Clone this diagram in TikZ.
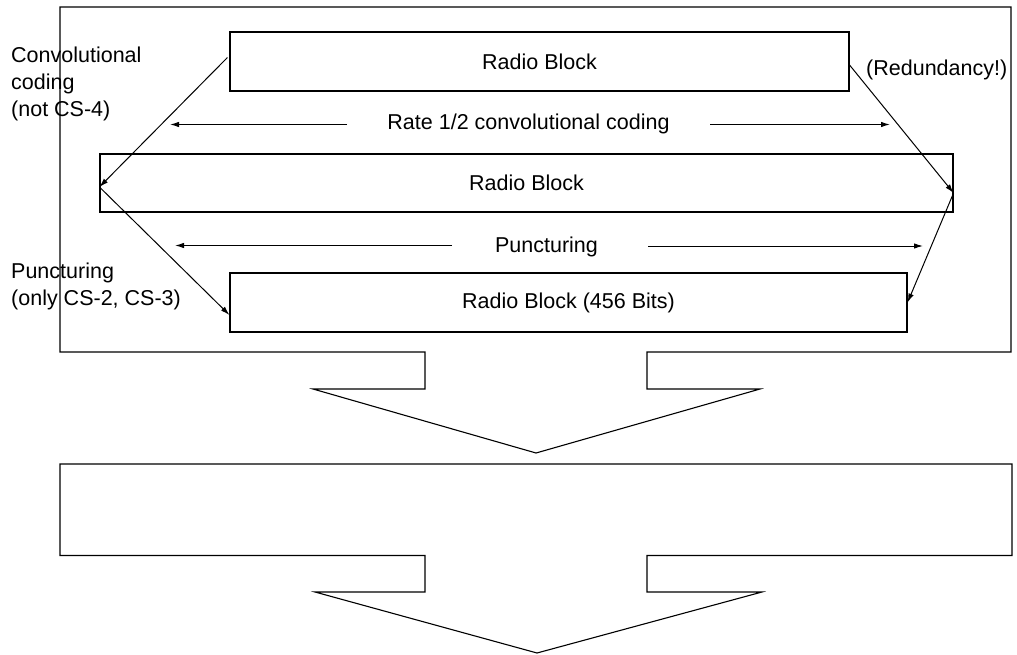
\documentclass[tikz,border=0pt]{standalone}
\usepackage{fontspec}
\setmainfont{Liberation Sans}
\usetikzlibrary{arrows.meta,calc}
\begin{document}
\begin{tikzpicture}[x=1pt,y=-1pt,
  every node/.style={font=\fontsize{21.5}{27}\selectfont},
  ln/.style={line width=1.1pt,line join=miter},
  block/.style={ln,draw,inner sep=0pt,anchor=center},
  arr/.style={line width=1pt,-{Latex[length=9pt,width=5.5pt]}},
  lbl/.style={inner sep=0pt,align=left,anchor=north west}]
\useasboundingbox (0,0) rectangle (1017,655);
% big frame with block arrow
\draw[ln] (425,352) -- (60,352) -- (60,7) -- (1011,7) -- (1011,352) -- (647,352)
  -- (647,389) -- (760,389) -- (536,453) -- (313,389) -- (425,389) -- cycle;
% lower box with block arrow
\draw[ln] (60,464) -- (1012,464) -- (1012,555.5) -- (647,555.5) -- (647,592)
  -- (762,592) -- (537,653) -- (315,592) -- (425,592) -- (425,555.5) -- (60,555.5) -- cycle;
% blocks
\node[block,minimum width=619pt,minimum height=59pt] (b1) at (539.5,61.5) {Radio Block};
\node[block,minimum width=853pt,minimum height=58pt] (b2) at (526.5,183) {Radio Block};
\node[block,minimum width=677pt,minimum height=59pt] (b3) at (568.5,302.5) {Radio Block (456 Bits)};
% side labels
\node[lbl] (conv) at (11,47) {Convolutional\\coding\\(not CS-4)};
\node[lbl] (punc) at (11,262.3) {Puncturing\\(only CS-2, CS-3)};
\node[inner sep=0pt,anchor=west] (red) at (866,70) {(Redundancy!)};
% middle labels with arrows
\node[inner sep=0pt,anchor=base] (rate) at (528.5,129.5) {Rate 1/2 convolutional coding};
\node[inner sep=0pt,anchor=base] (pct) at (546.5,252.5) {Puncturing};
\coordinate (r1a) at (347,124.5); \coordinate (r1b) at (170,124.5);
\coordinate (r2a) at (710,124.5); \coordinate (r2b) at (890,124.5);
\coordinate (p1a) at (452,245.5); \coordinate (p1b) at (175,245.5);
\coordinate (p2a) at (648,246); \coordinate (p2b) at (923,246);
\draw[arr] (r1a) -- (r1b);
\draw[arr] (r2a) -- (r2b);
\draw[arr] (p1a) -- (p1b);
\draw[arr] (p2a) -- (p2b);
% diagonal connectors
\draw[arr] ([yshift=4pt,xshift=-2pt]b1.west) -- ([yshift=-4pt]b2.west);
\draw[arr] ([yshift=-4pt]b2.west) -- ([yshift=-12.5pt]b3.west);
\draw[arr] ([yshift=-3.5pt]b1.east) -- ([yshift=-10pt]b2.east);
\draw[arr] ([yshift=-10pt]b2.east) -- (b3.east);
\end{tikzpicture}
\end{document}
